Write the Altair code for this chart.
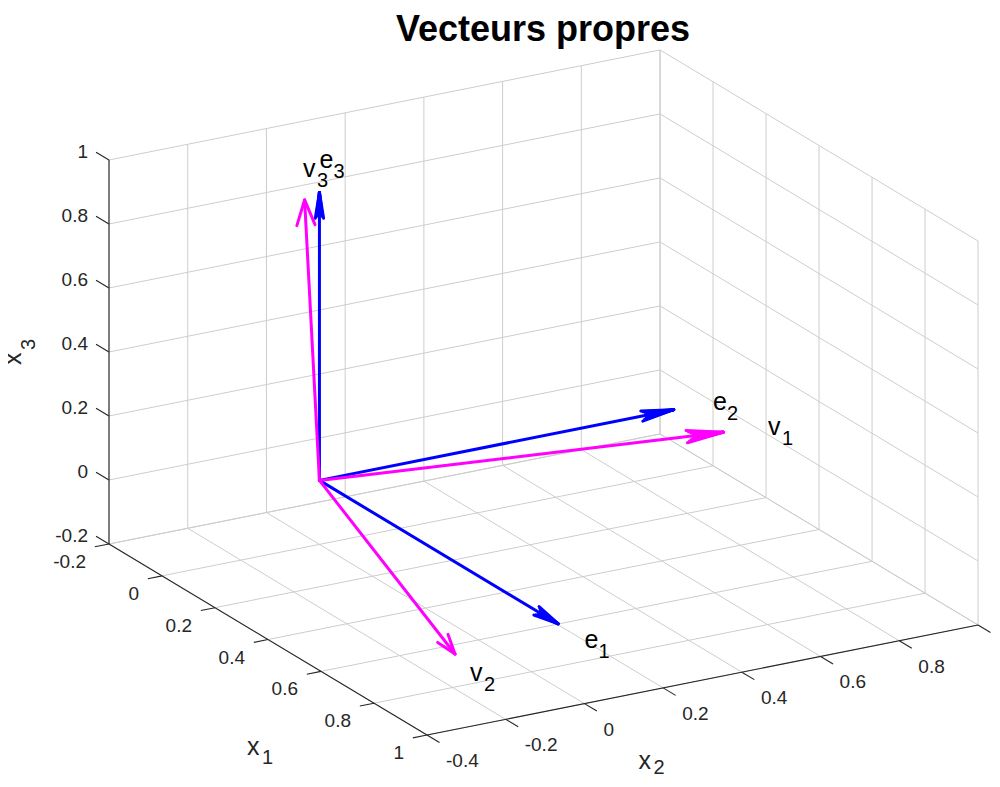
import altair as alt
import pandas as pd
import numpy as np

# ---------------- data ----------------
TITLE = "Vecteurs propres"
X1_LIM = [-0.2, 1.0]
X2_LIM = [-0.4, 1.0]
X3_LIM = [-0.2, 1.0]
X1_TICKS = [-0.2, 0, 0.2, 0.4, 0.6, 0.8, 1]
X2_TICKS = [-0.4, -0.2, 0, 0.2, 0.4, 0.6, 0.8, 1]
X3_TICKS = [-0.2, 0, 0.2, 0.4, 0.6, 0.8, 1]

E_LETTERS = ["e", "e", "e"]
E_SUBS = ["1", "2", "3"]
E_VECTORS = [[1, 0, 0], [0, 1, 0], [0, 0, 1]]

V_LETTERS = ["v", "v", "v"]
V_SUBS = ["1", "2", "3"]
V_VECTORS = [[0.262, 0.963, 0.061], [0.962, -0.265, -0.059], [0.021, -0.056, 0.998]]

QUIVER_SCALE = 0.9   # MATLAB quiver3 autoscale

# arrow-head style per arrow (half-width ratio, filled look)
E_HEAD_HALF = [0.2, 0.16, 0.16]
V_HEAD_HALF = [0.17, 0.33, 0.36]
E_HEAD_FILLED = [True, True, True]
V_HEAD_FILLED = [True, False, False]

# ---------------- camera (orthographic view, page pixels) ----------------
PAGE = 8
CAM_ORIGIN = (109.0, 544.0)      # screen point of (x1min, x2min, x3min)
CAM_X1 = (265.0, 159.2)          # screen step per unit of x1
CAM_X2 = (393.6, -78.6)          # per unit of x2
CAM_X3 = (0.0, -320.0)           # per unit of x3
W, H = 984, 771

FONT = "Liberation Sans"
BLUE = "#0000ff"
MAGENTA = "#ff00ff"
GRID = "#cdcdcd"
AXIS = "#262626"


def proj(p):
    d1 = p[0] - X1_LIM[0]
    d2 = p[1] - X2_LIM[0]
    d3 = p[2] - X3_LIM[0]
    X = CAM_ORIGIN[0] + d1 * CAM_X1[0] + d2 * CAM_X2[0] + d3 * CAM_X3[0]
    Y = CAM_ORIGIN[1] + d1 * CAM_X1[1] + d2 * CAM_X2[1] + d3 * CAM_X3[1]
    return X - PAGE, Y - PAGE


grid_rows, axis_rows, arrow_rows = [], [], []


def seg(rows, p, q, color):
    a = proj(p)
    b = proj(q)
    rows.append(dict(x=a[0], y=a[1], x2=b[0], y2=b[1], c=color))


x1lo, x1hi = X1_LIM
x2lo, x2hi = X2_LIM
zlo, zhi = X3_LIM

# grid on the three back planes
for t in X1_TICKS:
    seg(grid_rows, (t, x2lo, zlo), (t, x2hi, zlo), GRID)
    seg(grid_rows, (t, x2hi, zlo), (t, x2hi, zhi), GRID)
for t in X2_TICKS:
    seg(grid_rows, (x1lo, t, zlo), (x1hi, t, zlo), GRID)
    seg(grid_rows, (x1lo, t, zlo), (x1lo, t, zhi), GRID)
for t in X3_TICKS:
    seg(grid_rows, (x1lo, x2lo, t), (x1lo, x2hi, t), GRID)
    seg(grid_rows, (x1lo, x2hi, t), (x1hi, x2hi, t), GRID)

# axis lines + ticks
seg(axis_rows, (x1lo, x2lo, zlo), (x1hi, x2lo, zlo), AXIS)
seg(axis_rows, (x1hi, x2lo, zlo), (x1hi, x2hi, zlo), AXIS)
seg(axis_rows, (x1lo, x2lo, zlo), (x1lo, x2lo, zhi), AXIS)
TL1, TL2, TL3 = 0.036, 0.047, 0.049
tick_label_rows = []
for t in X1_TICKS:
    seg(axis_rows, (t, x2lo, zlo), (t, x2lo - TL1, zlo), AXIS)
    px, py = proj((t, x2lo, zlo))
    tick_label_rows.append(dict(x=px, y=py, t=f"{t:g}", ax="x1"))
for t in X2_TICKS:
    seg(axis_rows, (x1hi, t, zlo), (x1hi + TL2, t, zlo), AXIS)
    px, py = proj((x1hi, t, zlo))
    tick_label_rows.append(dict(x=px, y=py, t=f"{t:g}", ax="x2"))
for t in X3_TICKS:
    seg(axis_rows, (x1lo, x2lo, t), (x1lo - TL3, x2lo, t), AXIS)
    px, py = proj((x1lo, x2lo, t))
    tick_label_rows.append(dict(x=px, y=py, t=f"{t:g}", ax="x3"))

# arrows (quiver3) and their labels
label_rows = []
origin = (0.0, 0.0, 0.0)
HEAD_FRAC = 0.09
for vecs, letters, subs, halves, filled, color in [
        (E_VECTORS, E_LETTERS, E_SUBS, E_HEAD_HALF, E_HEAD_FILLED, BLUE),
        (V_VECTORS, V_LETTERS, V_SUBS, V_HEAD_HALF, V_HEAD_FILLED, MAGENTA)]:
    for v, l, s, hh, fl in zip(vecs, letters, subs, halves, filled):
        tip3 = [QUIVER_SCALE * c for c in v]
        seg(arrow_rows, origin, tip3, color)
        o = np.array(proj(origin))
        tp = np.array(proj(tip3))
        d = tp - o
        L = np.hypot(*d)
        u = d / L
        n = np.array([-u[1], u[0]])
        h = HEAD_FRAC * L
        fracs = np.linspace(-1, 1, 9) if fl else [-1.0, 1.0]
        for f in fracs:
            back = h * (1 - 0.25 * (1 - abs(f))) if fl else h
            wing = tp - u * back + f * n * h * hh
            arrow_rows.append(dict(x=wing[0], y=wing[1], x2=tp[0], y2=tp[1], c=color))
        lx, ly = proj(v)
        label_rows.append(dict(x=lx, y=ly, t=l, s=s))

grid_df = pd.DataFrame(grid_rows)
axis_df = pd.DataFrame(axis_rows)
arrow_df = pd.DataFrame(arrow_rows)
tick_df = pd.DataFrame(tick_label_rows)
label_df = pd.DataFrame(label_rows)

# axis titles anchored at axis midpoints
mx1 = proj(((x1lo + x1hi) / 2, x2lo, zlo))
mx2 = proj((x1hi, (x2lo + x2hi) / 2, zlo))
mx3 = proj((x1lo, x2lo, (zlo + zhi) / 2))
title_df = pd.DataFrame([
    dict(x=mx1[0] - 21, y=mx1[1] + 107, t="x", s="1", sdy=11),
    dict(x=mx2[0] - 64, y=mx2[1] + 81, t="x", s="2", sdy=7),
])
z_title_df = pd.DataFrame([dict(x=mx3[0] - 96, y=mx3[1] + 13, t="x", s="3")])

XS = alt.Scale(domain=[0, W], nice=False, zero=False)
YS = alt.Scale(domain=[0, H], nice=False, zero=False, reverse=True)


def rules(df, width, cap="butt"):
    return alt.Chart(df).mark_rule(strokeWidth=width, strokeCap=cap).encode(
        x=alt.X("x:Q", scale=XS, axis=None),
        y=alt.Y("y:Q", scale=YS, axis=None),
        x2="x2:Q", y2="y2:Q",
        color=alt.Color("c:N", scale=None),
    )


def texts(df, field, size, align, baseline, dx=0, dy=0, color="#000000", weight="normal", angle=0):
    return alt.Chart(df).mark_text(
        font=FONT, fontSize=size, align=align, baseline=baseline,
        dx=dx, dy=dy, color=color, fontWeight=weight, angle=angle,
    ).encode(
        x=alt.X("x:Q", scale=XS, axis=None),
        y=alt.Y("y:Q", scale=YS, axis=None),
        text=f"{field}:N",
    )


grid_layer = rules(grid_df, 1)
axis_layer = rules(axis_df, 1.1)
arrow_layer = rules(arrow_df, 3, "round")

tick_x1 = texts(tick_df[tick_df.ax == "x1"], "t", 19, "right", "middle", dx=-23, dy=18, color=AXIS)
tick_x2 = texts(tick_df[tick_df.ax == "x2"], "t", 19, "left", "middle", dx=19, dy=26, color=AXIS)
tick_x3 = texts(tick_df[tick_df.ax == "x3"], "t", 19, "right", "middle", dx=-21, dy=-8, color=AXIS)

lab_main = texts(label_df, "t", 25, "left", "middle")
lab_sub = texts(label_df, "s", 20, "left", "middle", dx=14, dy=12)

ttl_main = texts(title_df, "t", 25, "left", "middle", color=AXIS)
ttl_sub = alt.Chart(title_df).mark_text(
    font=FONT, fontSize=20, align="left", baseline="middle", dx=15, color=AXIS
).encode(
    x=alt.X("x:Q", scale=XS, axis=None),
    y=alt.Y("ys:Q", scale=YS, axis=None),
    text="s:N",
).transform_calculate(ys="datum.y + datum.sdy")
z_main = texts(z_title_df, "t", 25, "left", "middle", color=AXIS, angle=270)
z_sub = alt.Chart(z_title_df).mark_text(
    font=FONT, fontSize=20, align="left", baseline="middle", color=AXIS, angle=270
).encode(
    x=alt.X("xs:Q", scale=XS, axis=None),
    y=alt.Y("ys:Q", scale=YS, axis=None),
    text="s:N",
).transform_calculate(xs="datum.x + 16", ys="datum.y - 15")

title_df2 = pd.DataFrame([dict(t=TITLE)])
title_layer = alt.Chart(title_df2).mark_text(
    font=FONT, fontSize=36, fontWeight="bold", align="center", baseline="alphabetic", color="#000000"
).encode(x=alt.value(535), y=alt.value(33), text="t:N")

chart = alt.layer(
    grid_layer, axis_layer, arrow_layer,
    tick_x1, tick_x2, tick_x3,
    lab_main, lab_sub, ttl_main, ttl_sub, z_main, z_sub, title_layer,
).properties(width=W, height=H, padding=0, autosize="none", background="#ffffff"
).configure_view(strokeWidth=0)

chart.save("out.html", embed_options={"renderer": "svg", "actions": False})
